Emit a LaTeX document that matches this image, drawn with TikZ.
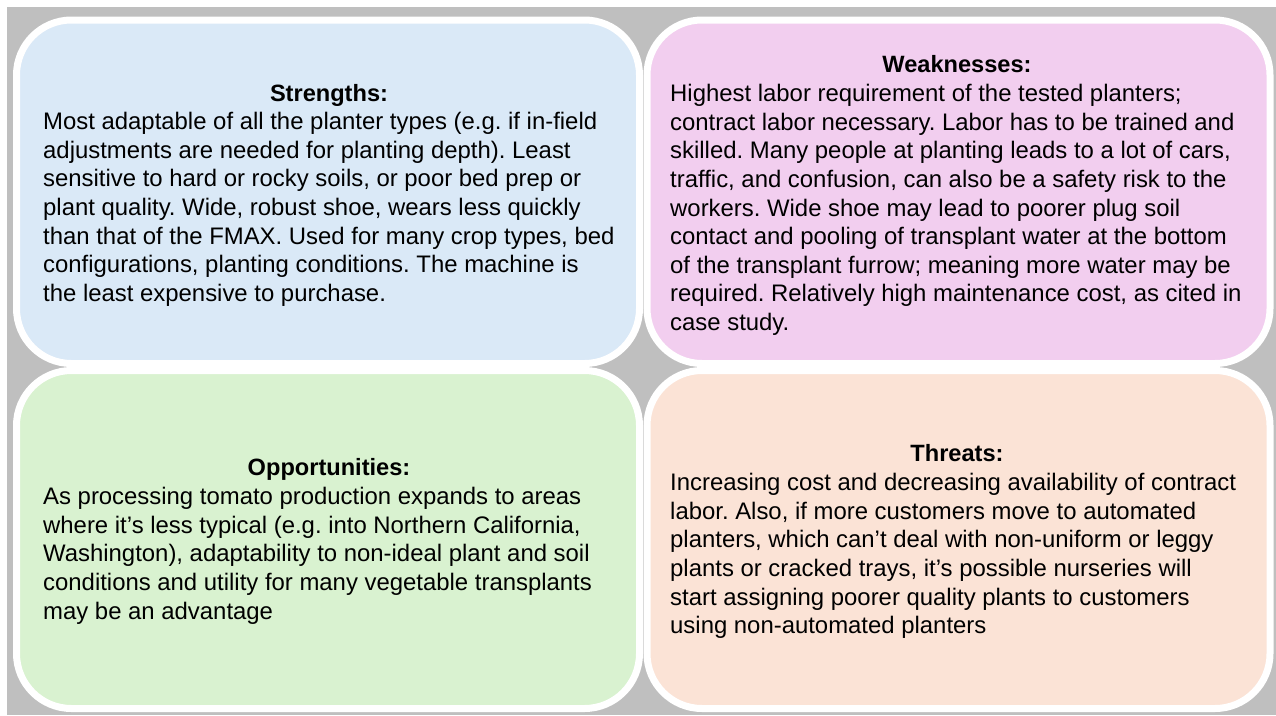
\documentclass[tikz,border=0pt]{standalone}
\usepackage{fontspec}
\setmainfont{Liberation Sans}
\definecolor{backgray}{HTML}{BFBFBF}
\definecolor{strfill}{HTML}{DAE9F7}
\definecolor{weakfill}{HTML}{F2CEEF}
\definecolor{oppfill}{HTML}{D9F2D0}
\definecolor{thrfill}{HTML}{FBE3D6}
\frenchspacing
\begin{document}
\begin{tikzpicture}[x=1pt,y=-1pt]
    \tikzstyle{quad}=[rectangle,rounded corners=55pt,draw=white,line width=7pt,inner sep=0pt,minimum width=623pt]
    \tikzstyle{head}=[anchor=base,inner sep=0pt,font=\fontsize{23.6}{28.6}\selectfont\bfseries]
    \tikzstyle{body}=[anchor=north west,inner sep=0pt,align=left,font=\fontsize{23.9}{28.6}\selectfont]
    \useasboundingbox (0,0) rectangle (1276,715);
    \fill [backgray] (7,7) rectangle (1276,715);
    % the four quadrants
    \node [quad,fill=strfill,minimum height=343.5pt] (str) at (328,191.75) {};
    \node [quad,fill=weakfill,minimum height=343.5pt] (weak) at (958.5,191.75) {};
    \node [quad,fill=oppfill,minimum height=338pt] (opp) at (328,539.5) {};
    \node [quad,fill=thrfill,minimum height=338pt] (thr) at (958.5,539.5) {};
    % strengths
    \node [head] (strhead) at (329,101) {Strengths:};
    \node [body] (strbody) at (43,109.5) {\strut Most adaptable of all the planter types (e.g. if in-field\\
        adjustments are needed for planting depth). Least\\
        sensitive to hard or rocky soils, or poor bed prep or\\
        plant quality. Wide, robust shoe, wears less quickly\\
        than that of the FMAX. Used for many crop types, bed\\
        configurations, planting conditions. The machine is\\
        the least expensive to purchase.};
    % weaknesses
    \node [head] (weakhead) at (957,72.5) {Weaknesses:};
    \node [body] (weakbody) at (670,81.5) {\strut Highest labor requirement of the tested planters;\\
        contract labor necessary. Labor has to be trained and\\
        skilled. Many people at planting leads to a lot of cars,\\
        traffic, and confusion, can also be a safety risk to the\\
        workers. Wide shoe may lead to poorer plug soil\\
        contact and pooling of transplant water at the bottom\\
        of the transplant furrow; meaning more water may be\\
        required. Relatively high maintenance cost, as cited in\\
        case study.};
    % opportunities
    \node [head] (opphead) at (329,475.5) {Opportunities:};
    \node [body] (oppbody) at (43,484.5) {\strut As processing tomato production expands to areas\\
        where it’s less typical (e.g. into Northern California,\\
        Washington), adaptability to non-ideal plant and soil\\
        conditions and utility for many vegetable transplants\\
        may be an advantage};
    % threats
    \node [head] (thrhead) at (957,461.5) {Threats:};
    \node [body] (thrbody) at (670,470.5) {\strut Increasing cost and decreasing availability of contract\\
        labor. Also, if more customers move to automated\\
        planters, which can’t deal with non-uniform or leggy\\
        plants or cracked trays, it’s possible nurseries will\\
        start assigning poorer quality plants to customers\\
        using non-automated planters};
\end{tikzpicture}
\end{document}
